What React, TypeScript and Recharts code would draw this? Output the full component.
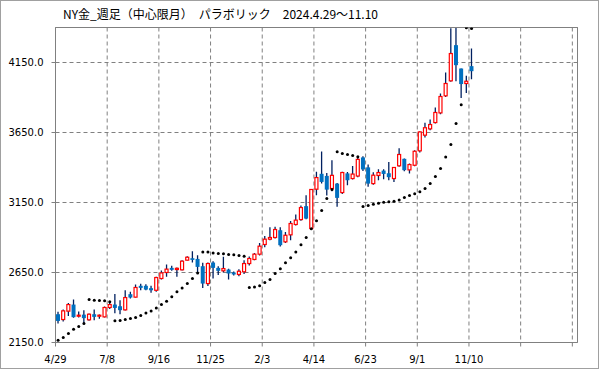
import React from 'react';
import { ComposedChart, Bar, Scatter, XAxis, YAxis, CartesianGrid, ReferenceLine } from 'recharts';

const title = 'NY金_週足（中心限月）　パラボリック　2024.4.29～11.10';
const xLabels = ['4/29', '7/8', '9/16', '11/25', '2/3', '4/14', '6/23', '9/1', '11/10', '', ''];
const xTicks = [0, 10, 20, 30, 40, 50, 60, 70, 80, 90, 100];
const yTicks = [2150, 2650, 3150, 3650, 4150];

const opens = [
  2352, 2314, 2374, 2421, 2338, 2349, 2312, 2352, 2340, 2333,
  2400, 2421, 2409, 2383, 2495, 2474, 2555, 2555, 2538, 2523,
  2607, 2650, 2683, 2671, 2669, 2738, 2752, 2747, 2695, 2571,
  2721, 2683, 2662, 2671, 2650, 2636, 2655, 2714, 2743, 2781,
  2850, 2888, 2900, 2952, 2869, 2919, 2993, 3028, 3124, 2964,
  3245, 3355, 3340, 3250, 3285, 3221, 3358, 3321, 3339, 3472,
  3401, 3285, 3343, 3378, 3359, 3321, 3412, 3462, 3383, 3416,
  3519, 3631, 3676, 3721, 3790, 3912, 4019, 4274, 4107, 4000,
  4124,
];
const highs = [
  2369, 2385, 2433, 2457, 2372, 2381, 2357, 2385, 2350, 2408,
  2438, 2497, 2452, 2524, 2512, 2564, 2569, 2566, 2555, 2619,
  2665, 2707, 2698, 2685, 2738, 2766, 2802, 2773, 2719, 2721,
  2730, 2695, 2762, 2676, 2657, 2674, 2738, 2764, 2790, 2860,
  2910, 2974, 2976, 2974, 2940, 3017, 3065, 3128, 3202, 3245,
  3369, 3514, 3361, 3452, 3290, 3370, 3368, 3410, 3478, 3480,
  3421, 3366, 3388, 3388, 3440, 3404, 3538, 3464, 3428, 3524,
  3659, 3719, 3743, 3828, 3928, 4078, 4394, 4399, 4107, 4055,
  4250,
];
const lows = [
  2285, 2300, 2340, 2326, 2328, 2290, 2305, 2309, 2319, 2328,
  2390, 2359, 2352, 2378, 2464, 2472, 2523, 2523, 2505, 2512,
  2600, 2619, 2662, 2619, 2664, 2735, 2721, 2654, 2540, 2554,
  2607, 2633, 2650, 2600, 2628, 2624, 2640, 2700, 2738, 2771,
  2830, 2880, 2893, 2836, 2860, 2880, 2985, 3020, 3030, 2957,
  3202, 3286, 3200, 3230, 3119, 3210, 3273, 3315, 3330, 3375,
  3262, 3277, 3309, 3316, 3309, 3297, 3405, 3374, 3357, 3409,
  3507, 3614, 3666, 3714, 3781, 3904, 4012, 4016, 3897, 3933,
  4031,
];
const closes = [
  2304, 2376, 2421, 2331, 2345, 2324, 2352, 2333, 2345, 2400,
  2421, 2397, 2381, 2471, 2471, 2543, 2540, 2528, 2523, 2614,
  2647, 2674, 2669, 2680, 2731, 2759, 2740, 2690, 2571, 2714,
  2683, 2662, 2678, 2643, 2636, 2659, 2714, 2750, 2781, 2838,
  2888, 2900, 2957, 2845, 2916, 3000, 3024, 3114, 3035, 3243,
  3328, 3297, 3242, 3344, 3183, 3364, 3309, 3353, 3458, 3386,
  3285, 3345, 3364, 3354, 3331, 3400, 3493, 3381, 3421, 3516,
  3654, 3684, 3707, 3793, 3907, 4000, 4214, 4131, 3996, 4016,
  4088,
];
const sar = [
  2166, 2185, 2214, 2245, 2264, 2285, 2457, 2451, 2450, 2448,
  2441, 2306, 2308, 2315, 2322, 2328, 2343, 2360, 2375, 2396,
  2421, 2445, 2476, 2512, 2540, 2571, 2607, 2647, 2797, 2797,
  2790, 2785, 2784, 2778, 2776, 2771, 2766, 2543, 2547, 2555,
  2578, 2600, 2643, 2677, 2720, 2756, 2797, 2849, 2900, 2963,
  3020, 3093, 3178, 3243, 3512, 3500, 3493, 3485, 3476, 3121,
  3128, 3138, 3145, 3152, 3155, 3159, 3168, 3185, 3200, 3213,
  3227, 3250, 3285, 3335, 3393, 3475, 3564, 3714, 3848, 4398,
  4392,
];

const SLOTS = 101;

const rows = Array.from({ length: SLOTS }, (_, i) =>
  i < opens.length
    ? { i, x: i + 0.5, range: [lows[i], highs[i]], open: opens[i], high: highs[i], low: lows[i], close: closes[i] }
    : { i, x: i + 0.5 }
);
const sarData = sar.map((v, i) => ({ x: i + 0.5, sar: v }));

const Candle = (props: any) => {
  const { x, y, width, height, payload } = props;
  if (!payload || payload.open == null || !isFinite(y) || !isFinite(height)) return null;
  const { open, close, high, low } = payload;
  const k = height / (high - low);
  const yOf = (v: number) => y + (high - v) * k;
  const cx = x + width / 2;
  const up = close >= open;
  const top = yOf(Math.max(open, close));
  const bot = yOf(Math.min(open, close));
  const bh = Math.max(bot - top, 1);
  return (
    <g>
      <line x1={cx} x2={cx} y1={y} y2={y + height} stroke="#002060" strokeWidth={1.3} />
      {up ? (
        <rect x={cx - 1.5} y={top} width={3} height={bh} fill="#ffffff" stroke="#ff0000" strokeWidth={1.2} />
      ) : (
        <rect x={cx - 2} y={top} width={4} height={bh} fill="#0070c0" />
      )}
    </g>
  );
};

const SarDot = (props: any) => {
  const { cx, cy } = props;
  if (!isFinite(cx) || !isFinite(cy)) return null;
  return <circle cx={cx} cy={cy} r={1.5} fill="#000000" />;
};

const tickStyle = { fontFamily: 'DejaVu Sans', fontSize: 10, fill: '#000000' };

export default function App() {
  return (
    <div style={{ position: 'absolute', left: 0, top: 0, width: 599, height: 369, background: '#ffffff' }}>
      <ComposedChart
        width={599}
        height={369}
        data={rows}
        margin={{ top: 27.5, right: 21.5, bottom: 6.5, left: 5.5 }}
      >
        <XAxis
          dataKey="x"
          type="number"
          domain={[0, 101]}
          allowDataOverflow
          ticks={xTicks}
          interval={0}
          tickFormatter={(v: number) => xLabels[Math.round(v / 10)] ?? ''}
          height={20}
          tick={tickStyle}
          tickSize={4}
          tickMargin={9}
          stroke="#808080"
        />
        <XAxis xAxisId="cat" dataKey="i" type="category" hide />
        <YAxis
          type="number"
          domain={[2150, 4400]}
          allowDataOverflow
          ticks={yTicks}
          interval={0}
          tickFormatter={(v: number) => v.toFixed(1)}
          width={50}
          tick={tickStyle}
          tickSize={4}
          tickMargin={8}
          stroke="#808080"
        />
        <CartesianGrid stroke="#808080" strokeDasharray="4 3" />
        <ReferenceLine y={4400} stroke="#808080" />
        <ReferenceLine x={101} stroke="#808080" />
        <Bar xAxisId="cat" dataKey="range" shape={Candle} isAnimationActive={false} />
        <Scatter data={sarData} dataKey="sar" shape={SarDot} isAnimationActive={false} />
      </ComposedChart>
      <div
        style={{
          position: 'absolute',
          left: 63,
          top: 8,
          fontFamily: '"Noto Sans CJK JP", sans-serif',
          fontSize: 12,
          lineHeight: '12px',
          color: '#000000',
          whiteSpace: 'pre',
        }}
      >
        {title}
      </div>
      <div
        style={{
          position: 'absolute',
          left: 0,
          top: 0,
          width: 599,
          height: 369,
          boxSizing: 'border-box',
          border: '1px solid #a0a0a0',
          pointerEvents: 'none',
        }}
      />
    </div>
  );
}
